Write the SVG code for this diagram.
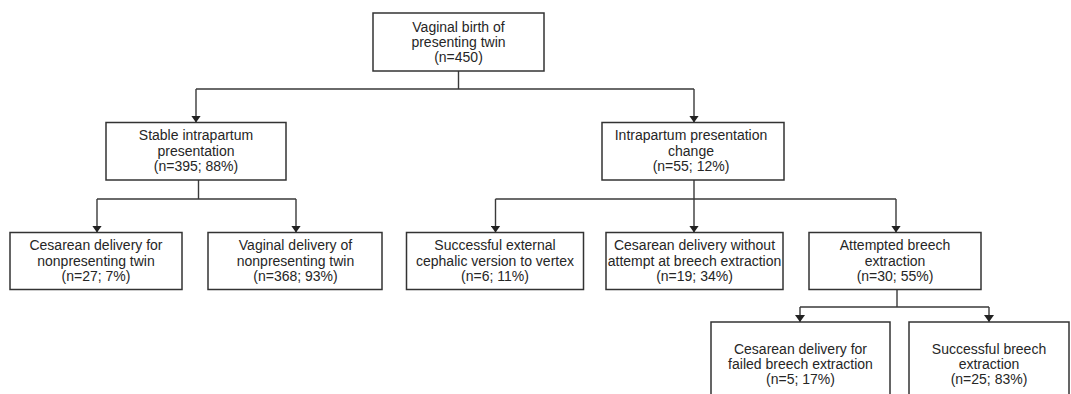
<svg xmlns="http://www.w3.org/2000/svg" width="1071" height="394" viewBox="0 0 1071 394">
<style>
.box{fill:#fff;stroke:#333;stroke-width:1.5}
.t{font-family:"Liberation Sans",Arial,sans-serif;font-size:14px;fill:#262626;text-anchor:middle}
.c{fill:none;stroke:#3a3a3a;stroke-width:1.4}
</style>
<defs>
<marker id="ah" markerWidth="7" markerHeight="10" refX="7" refY="5" orient="auto" markerUnits="userSpaceOnUse">
<path d="M0,0 L7,5 L0,10 Z" fill="#222"/>
</marker>
</defs>
<rect width="1071" height="394" fill="#fff"/>
<g id="connectors">
<path class="c" d="M458.5,71 V89 M196,89 H694"/>
<path class="c" d="M196,89 V122.5" marker-end="url(#ah)"/>
<path class="c" d="M694,89 V122.5" marker-end="url(#ah)"/>
<path class="c" d="M198.5,180 V199 M97,199 H296"/>
<path class="c" d="M97,199 V232.5" marker-end="url(#ah)"/>
<path class="c" d="M296,199 V232.5" marker-end="url(#ah)"/>
<path class="c" d="M694,180 V232.5" marker-end="url(#ah)"/>
<path class="c" d="M495.5,199 H896"/>
<path class="c" d="M495.5,199 V232.5" marker-end="url(#ah)"/>
<path class="c" d="M896,199 V232.5" marker-end="url(#ah)"/>
<path class="c" d="M897,290 V307 M800,307 H989"/>
<path class="c" d="M800,307 V322" marker-end="url(#ah)"/>
<path class="c" d="M989,307 V322" marker-end="url(#ah)"/>
</g>
<g id="n-root">
<rect class="box" x="373" y="13" width="171" height="58"/>
<text class="t" x="458.5" y="31.5">Vaginal birth of</text>
<text class="t" x="458.5" y="46.5">presenting twin</text>
<text class="t" x="458.5" y="61.5">(n=450)</text>
</g>
<g id="n-stable">
<rect class="box" x="106" y="122.5" width="180" height="57.5"/>
<text class="t" x="196" y="140">Stable intrapartum</text>
<text class="t" x="196" y="155.5">presentation</text>
<text class="t" x="196" y="170.5">(n=395; 88%)</text>
</g>
<g id="n-change">
<rect class="box" x="602" y="122.5" width="182" height="57.5"/>
<text class="t" x="691" y="140">Intrapartum presentation</text>
<text class="t" x="691" y="155.5">change</text>
<text class="t" x="691" y="170.5">(n=55; 12%)</text>
</g>
<g id="n-cs-nonpresenting">
<rect class="box" x="10" y="232.5" width="172" height="57"/>
<text class="t" x="96" y="250">Cesarean delivery for</text>
<text class="t" x="96" y="265.5">nonpresenting twin</text>
<text class="t" x="96" y="280.5">(n=27; 7%)</text>
</g>
<g id="n-vag-nonpresenting">
<rect class="box" x="208" y="232.5" width="174" height="57"/>
<text class="t" x="295.5" y="250">Vaginal delivery of</text>
<text class="t" x="295.5" y="265.5">nonpresenting twin</text>
<text class="t" x="295.5" y="280.5">(n=368; 93%)</text>
</g>
<g id="n-ecv">
<rect class="box" x="406.5" y="232.5" width="177" height="57"/>
<text class="t" x="495" y="250">Successful external</text>
<text class="t" x="495" y="265.5">cephalic version to vertex</text>
<text class="t" x="495" y="280.5">(n=6; 11%)</text>
</g>
<g id="n-cs-noattempt">
<rect class="box" x="606" y="232.5" width="177" height="57"/>
<text class="t" x="694.5" y="250">Cesarean delivery without</text>
<text class="t" x="694.5" y="265.5">attempt at breech extraction</text>
<text class="t" x="694.5" y="280.5">(n=19; 34%)</text>
</g>
<g id="n-attempted">
<rect class="box" x="809" y="232.5" width="172" height="57"/>
<text class="t" x="895" y="250">Attempted breech</text>
<text class="t" x="895" y="265.5">extraction</text>
<text class="t" x="895" y="280.5">(n=30; 55%)</text>
</g>
<g id="n-cs-failed">
<rect class="box" x="711" y="322" width="179" height="80"/>
<text class="t" x="800.5" y="354">Cesarean delivery for</text>
<text class="t" x="800.5" y="369">failed breech extraction</text>
<text class="t" x="800.5" y="384">(n=5; 17%)</text>
</g>
<g id="n-success-breech">
<rect class="box" x="909" y="322" width="160" height="80"/>
<text class="t" x="989" y="354">Successful breech</text>
<text class="t" x="989" y="369">extraction</text>
<text class="t" x="989" y="384">(n=25; 83%)</text>
</g>
</svg>
